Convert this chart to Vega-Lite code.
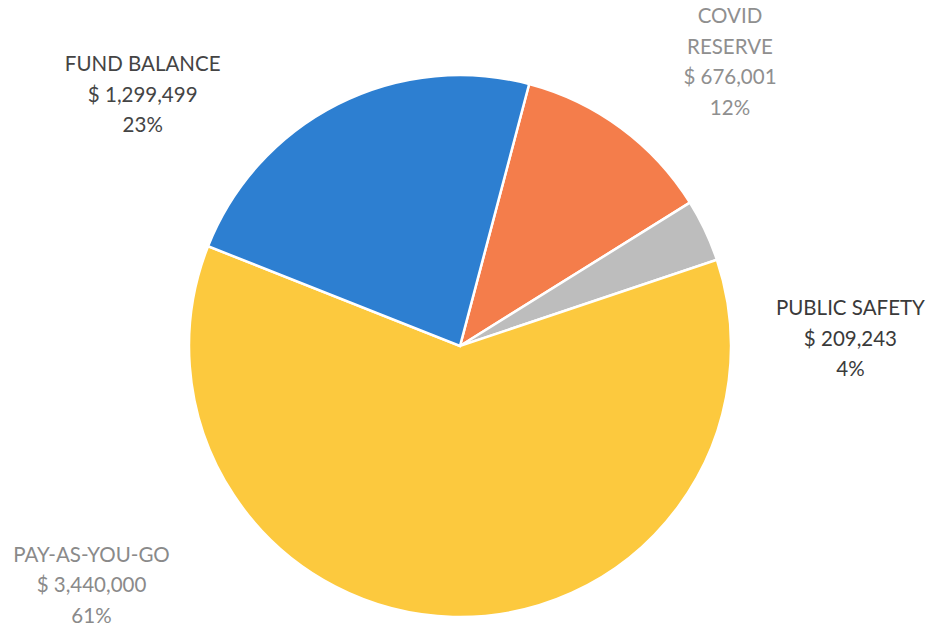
{
  "$schema": "https://vega.github.io/schema/vega-lite/v6.json",
  "width": 920,
  "height": 578,
  "autosize": {"type": "none"},
  "padding": {"left": 0, "top": 57, "right": 12, "bottom": 0},
  "background": "white",
  "view": {"stroke": null},
  "data": {
    "values": [
      {"category": "COVID RESERVE", "amount": 676001, "rank": 1, "label": ["COVID", "RESERVE", "$ 676,001", "12%"]},
      {"category": "PUBLIC SAFETY", "amount": 209243, "rank": 2, "label": ["PUBLIC SAFETY", "$ 209,243", "4%"]},
      {"category": "PAY-AS-YOU-GO", "amount": 3440000, "rank": 3, "label": ["PAY-AS-YOU-GO", "$ 3,440,000", "61%"]},
      {"category": "FUND BALANCE", "amount": 1299499, "rank": 4, "label": ["FUND BALANCE", "$ 1,299,499", "23%"]}
    ]
  },
  "encoding": {
    "theta": {"field": "amount", "type": "quantitative", "stack": true, "scale": {"range": [0.258, 6.5412]}},
    "order": {"field": "rank", "type": "quantitative"}
  },
  "layer": [
    {
      "mark": {"type": "arc", "outerRadius": 271, "stroke": "white", "strokeWidth": 2.5},
      "encoding": {
        "color": {
          "field": "category",
          "type": "nominal",
          "scale": {
            "domain": ["COVID RESERVE", "PUBLIC SAFETY", "PAY-AS-YOU-GO", "FUND BALANCE"],
            "range": ["#f47d4b", "#bdbdbd", "#fcc93e", "#2d7fd1"]
          },
          "legend": null
        }
      }
    },
    {
      "mark": {"type": "text", "radius": 320, "dx": -173, "dy": 5, "font": "Lato", "fontSize": 20.5, "lineHeight": 30.5, "color": "#444444", "align": "center", "baseline": "middle"},
      "encoding": {"text": {"condition": {"test": "datum.category === 'FUND BALANCE'", "field": "label"}, "value": ""}}
    },
    {
      "mark": {"type": "text", "radius": 320, "dx": 80, "dy": -71, "font": "Lato", "fontSize": 20.5, "lineHeight": 30.5, "color": "#8f8f8f", "align": "center", "baseline": "middle"},
      "encoding": {"text": {"condition": {"test": "datum.category === 'COVID RESERVE'", "field": "label"}, "value": ""}}
    },
    {
      "mark": {"type": "text", "radius": 320, "dx": 101, "dy": 100, "font": "Lato", "fontSize": 20.5, "lineHeight": 30.5, "color": "#3a3a3a", "align": "center", "baseline": "middle"},
      "encoding": {"text": {"condition": {"test": "datum.category === 'PUBLIC SAFETY'", "field": "label"}, "value": ""}}
    },
    {
      "mark": {"type": "text", "radius": 320, "dx": -360, "dy": -110, "font": "Lato", "fontSize": 20.5, "lineHeight": 30.5, "color": "#8a8a8a", "align": "center", "baseline": "middle"},
      "encoding": {"text": {"condition": {"test": "datum.category === 'PAY-AS-YOU-GO'", "field": "label"}, "value": ""}}
    }
  ]
}
